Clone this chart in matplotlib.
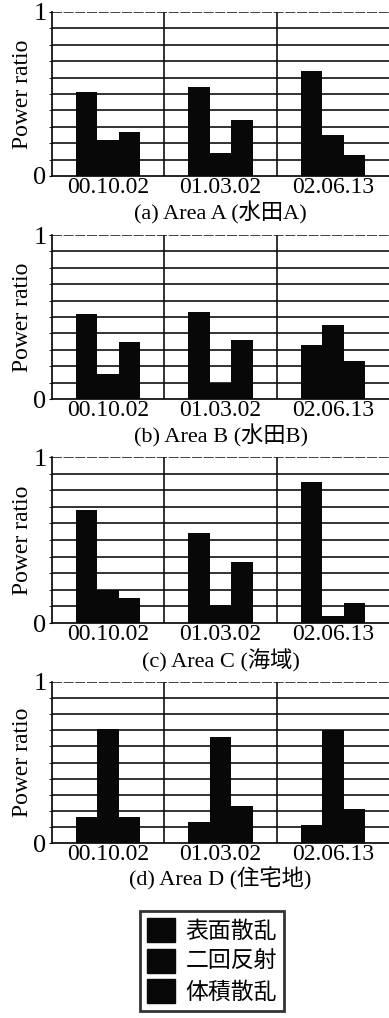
import matplotlib.pyplot as plt
import matplotlib.patches as mpatches
import numpy as np

plt.rcParams['font.family'] = ['Liberation Serif', 'Noto Sans CJK JP']

dates = ['00.10.02', '01.03.02', '02.06.13']
captions = ['(a) Area A (水田A)', '(b) Area B (水田B)', '(c) Area C (海域)', '(d) Area D (住宅地)']
legend_labels = ['表面散乱', '二回反射', '体積散乱']

# power ratio per area: surface, double bounce, volume
area_a_surface = [0.51, 0.54, 0.64]
area_a_double = [0.22, 0.14, 0.25]
area_a_volume = [0.27, 0.34, 0.13]

area_b_surface = [0.52, 0.53, 0.33]
area_b_double = [0.15, 0.10, 0.45]
area_b_volume = [0.35, 0.36, 0.23]

area_c_surface = [0.68, 0.54, 0.85]
area_c_double = [0.20, 0.11, 0.04]
area_c_volume = [0.15, 0.37, 0.12]

area_d_surface = [0.16, 0.13, 0.11]
area_d_double = [0.71, 0.66, 0.70]
area_d_volume = [0.16, 0.23, 0.21]

areas = [
    (area_a_surface, area_a_double, area_a_volume),
    (area_b_surface, area_b_double, area_b_volume),
    (area_c_surface, area_c_double, area_c_volume),
    (area_d_surface, area_d_double, area_d_volume),
]

W, H = 389, 1018
fig = plt.figure(figsize=(W / 100, H / 100), dpi=100)

# (top, bottom) pixel rows of each panel
panels = [(12, 176), (235, 399), (457, 623), (682, 843)]
left = 52

x = np.arange(len(dates))
bw = 0.19

for (top, bottom), series, cap in zip(panels, areas, captions):
    ax = fig.add_axes([left / W, 1 - bottom / H, (W - left) / W, (bottom - top) / H])
    for k, vals in enumerate(series):
        ax.bar(x + (k - 1) * bw, vals, width=bw, color='#080808', zorder=3)
    ax.set_xlim(-0.5, 2.5)
    ax.set_ylim(0, 1)
    for yy in np.arange(0.1, 1.0, 0.1):
        ax.axhline(yy, color='#111111', lw=1.2, zorder=1)
    ax.axhline(1, color='#222222', lw=1.2, ls=(0, (6, 1)), zorder=1)
    for xx in [0.5, 1.5]:
        ax.axvline(xx, color='#111111', lw=1.2, zorder=1)
    for s in ['top', 'right']:
        ax.spines[s].set_visible(False)
    ax.spines['left'].set_linewidth(1.2)
    ax.spines['bottom'].set_linewidth(1.2)
    ax.set_yticks([0, 1])
    ax.set_yticklabels(['0', '1'], fontsize=19)
    ax.set_yticks(np.arange(0.1, 1.0, 0.1), minor=True)
    ax.tick_params(axis='y', which='both', length=2, pad=2)
    ax.set_xticks(x)
    ax.set_xticklabels(dates, fontsize=17)
    ax.tick_params(axis='x', length=0, pad=1)
    ax.set_ylabel('Power ratio', fontsize=17, labelpad=0)
    ax.text(0.5, -0.225, cap, transform=ax.transAxes, ha='center', va='center', fontsize=16)

handles = [mpatches.Patch(color='#080808') for _ in legend_labels]
leg = fig.legend(handles, legend_labels, loc='center', bbox_to_anchor=(212 / W, 1 - 961 / H),
                 prop={'family': 'Noto Sans CJK JP', 'size': 16.5}, frameon=True, fancybox=False,
                 edgecolor='black', handlelength=1.25, handleheight=1.25, labelspacing=0.25,
                 handletextpad=0.45, borderpad=0.3, borderaxespad=0)
leg.get_frame().set_linewidth(2)

fig.savefig('out.png', dpi=100)
